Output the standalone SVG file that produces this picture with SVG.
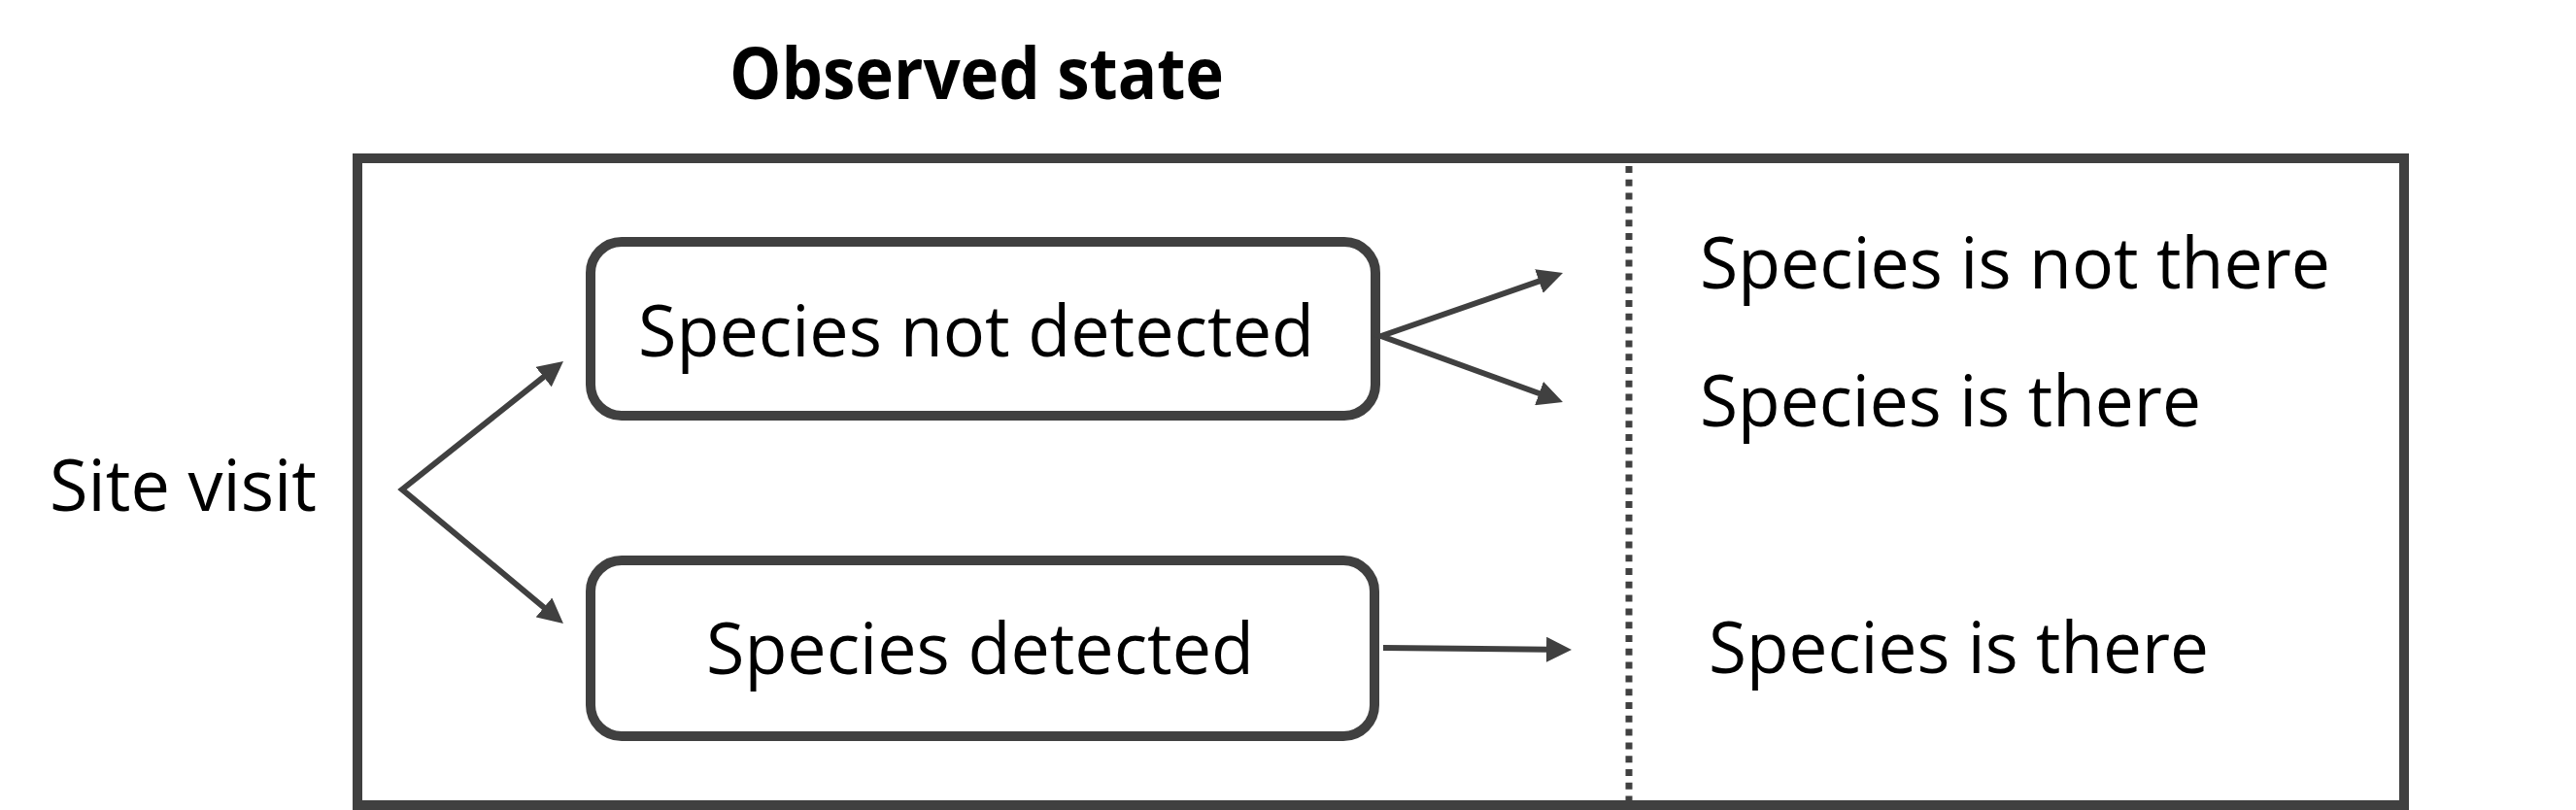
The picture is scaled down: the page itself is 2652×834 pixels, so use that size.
<svg xmlns="http://www.w3.org/2000/svg" width="2652" height="834" viewBox="0 0 2652 834">
<style>
.frame{fill:none;stroke:#404040;stroke-width:10}
.box{fill:#fff;stroke:#404040;stroke-width:10}
.conn{fill:none;stroke:#404040;stroke-width:6;stroke-linejoin:miter}
.div{stroke:#404040;stroke-width:7;stroke-dasharray:7 6.8}
.t{font-family:"Open Sans","Liberation Sans",sans-serif;font-size:74px;fill:#000}
.b{font-weight:bold}
</style>
<defs>
<marker id="ah" markerUnits="userSpaceOnUse" markerWidth="26" markerHeight="26" refX="2" refY="13" orient="auto-start-reverse" viewBox="0 0 26 26">
<path d="M0,0 L26,13 L0,26 z" fill="#404040"/>
</marker>
</defs>
<rect width="2652" height="834" fill="#fff"/>
<g id="frame">
<rect class="frame" x="368" y="163" width="2107" height="666"/>
<line class="div" x1="1677" y1="171" x2="1677" y2="824"/>
</g>
<g id="title">
<text class="t b" x="751" y="102" textLength="509" lengthAdjust="spacingAndGlyphs">Observed state</text>
</g>
<g id="site-visit">
<text class="t" x="51" y="526" textLength="275" lengthAdjust="spacingAndGlyphs">Site visit</text>
</g>
<g id="not-detected">
<rect class="box" x="608" y="249" width="808" height="179" rx="32" ry="32"/>
<text class="t" x="657" y="367" textLength="696" lengthAdjust="spacingAndGlyphs">Species not detected</text>
</g>
<g id="detected">
<rect class="box" x="608" y="577" width="807" height="181" rx="32" ry="32"/>
<text class="t" x="727" y="694" textLength="564" lengthAdjust="spacingAndGlyphs">Species detected</text>
</g>
<g id="state-not-there">
<text class="t" x="1750" y="297" textLength="649" lengthAdjust="spacingAndGlyphs">Species is not there</text>
</g>
<g id="state-there-1">
<text class="t" x="1750" y="439" textLength="516" lengthAdjust="spacingAndGlyphs">Species is there</text>
</g>
<g id="state-there-2">
<text class="t" x="1759" y="693" textLength="515" lengthAdjust="spacingAndGlyphs">Species is there</text>
</g>
<g id="connectors">
<path class="conn" d="M561.2,386.9 L414,504 L561.5,626.7" marker-start="url(#ah)" marker-end="url(#ah)"/>
<path class="conn" d="M1586.3,288.9 L1422,346 L1586.4,405.8" marker-start="url(#ah)" marker-end="url(#ah)"/>
<path class="conn" d="M1424,667 L1594,668.75" marker-end="url(#ah)"/>
</g>
</svg>
